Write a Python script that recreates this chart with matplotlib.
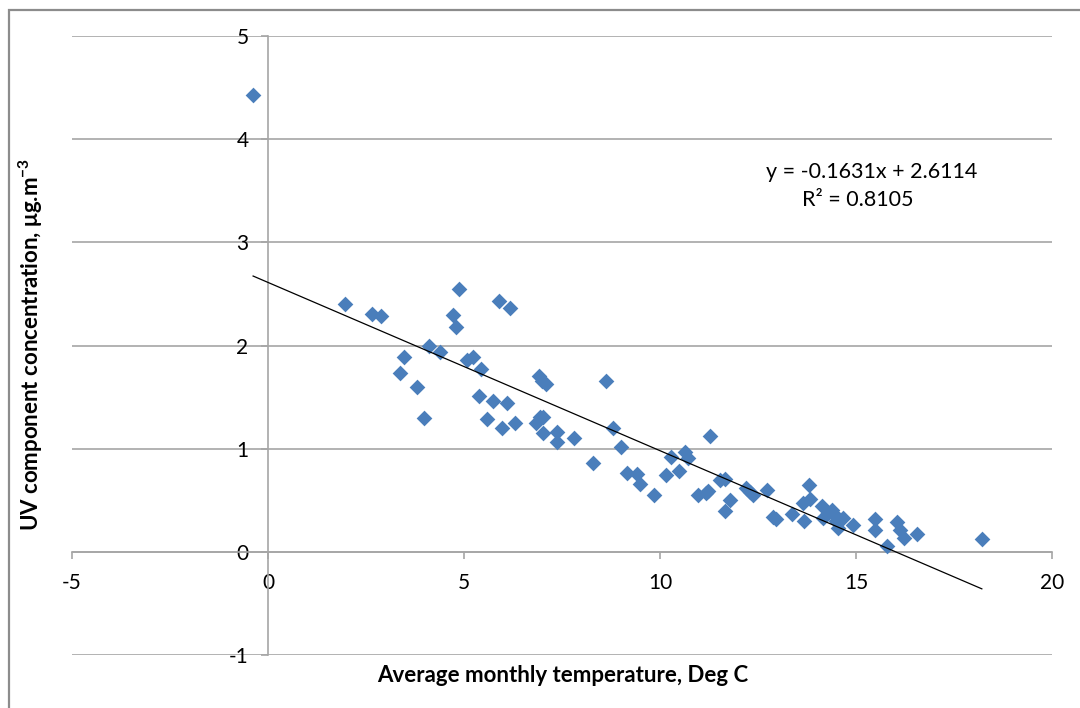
import numpy as np
import matplotlib.pyplot as plt
from matplotlib.patches import Rectangle

plt.rcParams['font.family'] = ['Lato', 'DejaVu Sans']
plt.rcParams['mathtext.default'] = 'regular'
plt.rcParams['axes.unicode_minus'] = False

# average monthly temperature (deg C)
temp = [-0.38, 1.96, 2.65, 2.88, 3.47, 3.37, 3.80, 3.98, 4.11, 4.39,
        4.72, 4.80, 4.87, 5.08, 5.23, 5.43, 5.38, 5.58, 5.74, 5.89,
        5.97, 6.09, 6.17, 6.30, 6.84, 6.94, 7.02, 6.91, 7.00, 7.09,
        7.02, 7.37, 7.37, 7.81, 8.29, 8.62, 8.80, 9.00, 9.16, 9.41,
        9.49, 9.85, 10.15, 10.28, 10.49, 10.64, 10.72, 11.28, 10.97, 11.17,
        11.22, 11.53, 11.66, 11.79, 11.66, 12.19, 12.37, 12.30, 12.73, 12.88,
        12.95, 13.37, 13.67, 13.65, 13.80, 13.83, 14.13, 14.16, 14.28, 14.39,
        14.47, 14.55, 14.50, 14.67, 14.92, 15.48, 15.48, 15.79, 16.04, 16.12,
        16.22, 16.55, 18.21]
# UV component concentration (ug/m3)
uv = [4.43, 2.40, 2.31, 2.29, 1.89, 1.73, 1.60, 1.30, 2.00, 1.94,
      2.30, 2.18, 2.55, 1.86, 1.89, 1.77, 1.51, 1.29, 1.46, 2.43,
      1.20, 1.44, 2.36, 1.25, 1.25, 1.31, 1.31, 1.70, 1.66, 1.63,
      1.15, 1.16, 1.06, 1.10, 0.86, 1.66, 1.20, 1.02, 0.76, 0.75,
      0.66, 0.55, 0.74, 0.92, 0.78, 0.97, 0.91, 1.12, 0.55, 0.57,
      0.59, 0.70, 0.71, 0.50, 0.40, 0.62, 0.55, 0.58, 0.60, 0.34,
      0.32, 0.37, 0.30, 0.47, 0.65, 0.51, 0.44, 0.33, 0.38, 0.41,
      0.36, 0.23, 0.30, 0.33, 0.26, 0.32, 0.21, 0.06, 0.29, 0.21,
      0.13, 0.17, 0.12]

slope, intercept = -0.1631, 2.6114
r2 = 0.8105

fig = plt.figure(figsize=(10.8, 7.08), dpi=100)
# outer chart border (left and top visible)
fig.patches.append(Rectangle((9 / 1080, -0.05), 1.2, 1 - 10 / 708 + 0.05,
                             transform=fig.transFigure, fill=False,
                             edgecolor='#8c8c8c', linewidth=1.6))

ax = fig.add_axes([72 / 1080, 1 - 655 / 708, 980 / 1080, 619 / 708])
ax.set_xlim(-5, 20)
ax.set_ylim(-1, 5)
ax.set_xticks(np.arange(-5, 21, 5))
ax.set_yticks(np.arange(-1, 6, 1))

grey = '#a6a6a6'
ax.grid(axis='y', color=grey, linewidth=1.2)
ax.set_axisbelow(True)
for s in ['top', 'right']:
    ax.spines[s].set_visible(False)
ax.spines['left'].set_position(('data', 0))
ax.spines['bottom'].set_position(('data', 0))
for s in ['left', 'bottom']:
    ax.spines[s].set_color(grey)
    ax.spines[s].set_linewidth(1.2)
ax.tick_params(axis='x', direction='out', length=5, width=1.2, color=grey,
               labelsize=15, pad=10)
ax.tick_params(axis='y', direction='out', length=5, width=1.2, color=grey,
               labelsize=15, pad=9)

ax.scatter(temp, uv, marker='D', s=64, color='#4a7ebb', zorder=3,
           linewidths=0)

xs = np.array([min(temp), max(temp)])
ax.plot(xs, slope * xs + intercept, color='black', linewidth=0.9, zorder=4)

ax.text(15.41, 3.68, f'y = {slope}x + {intercept}', ha='center',
        va='center', fontsize=15.5)
ax.text(15.05, 3.41, f'R² = {r2}', ha='center', va='center', fontsize=15.5)

fig.text(563 / 1080, 1 - 675 / 708, 'Average monthly temperature, Deg C',
         ha='center', va='center', fontsize=16, fontweight='bold')
fig.text(31 / 1080, 1 - 344 / 708,
         'UV component concentration, μg.m$^{-3}$', rotation=90,
         ha='center', va='center', fontsize=16, fontweight='bold')

fig.savefig('out.png', dpi=100)
